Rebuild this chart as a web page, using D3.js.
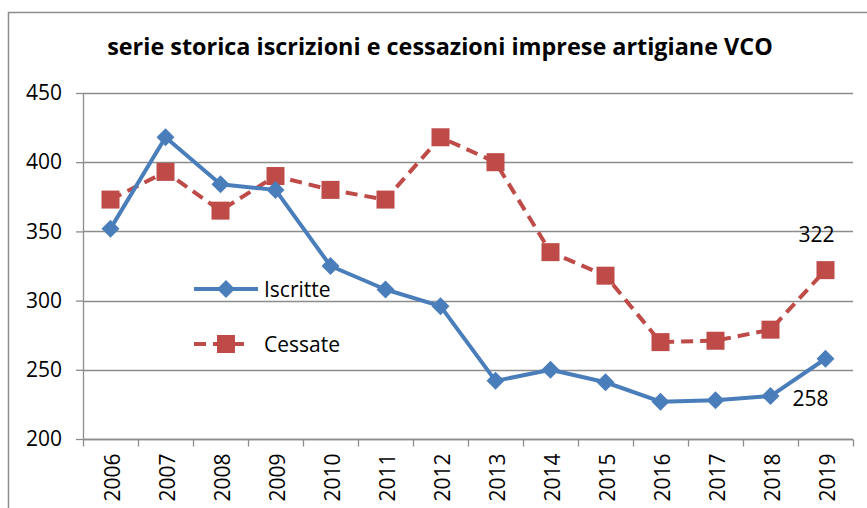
<!DOCTYPE html>
<html>
<head>
<meta charset="utf-8">
<script src="https://cdn.jsdelivr.net/npm/d3@7"></script>
<style>
  body { margin: 0; background: #fff; }
  text { font-family: "Open Sans", "Liberation Sans", sans-serif; fill: #000; }
</style>
</head>
<body>
<div id="chart"></div>
<script>
(function() {

    // data
    var years = ["2006", "2007", "2008", "2009", "2010", "2011", "2012",
                 "2013", "2014", "2015", "2016", "2017", "2018", "2019"];
    var iscritte = [352, 418, 384, 380, 325, 308, 296, 242, 250, 241, 227, 228, 231, 258];
    var cessate  = [373, 393, 365, 390, 380, 373, 418, 400, 335, 318, 270, 271, 279, 322];
    var yTicks = [200, 250, 300, 350, 400, 450];
    var title = "serie storica iscrizioni e cessazioni imprese artigiane VCO";

    var W = 867, H = 508;
    var margin = { top: 93, right: 14, bottom: 69, left: 83 },
        width = W - margin.left - margin.right,
        height = H - margin.top - margin.bottom;

    var svg = d3.select("#chart")
        .append("svg")
        .attr("width", W)
        .attr("height", H);

    // outer frame (top and left edge visible)
    svg.append("path")
        .attr("d", "M8.5," + H + "V12.5H" + W)
        .attr("fill", "none")
        .attr("stroke", "#8c8c8c")
        .attr("stroke-width", 1.5);

    // title
    var t = svg.append("text")
        .attr("x", 440)
        .attr("y", 55)
        .attr("text-anchor", "middle")
        .style("font-weight", "bold")
        .style("font-size", "20px")
        .text(title);
    var tl = t.node().getComputedTextLength();
    if (tl > 0) t.style("font-size", (20 * 666 / tl) + "px");

    var g = svg.append("g")
        .attr("transform", "translate(" + margin.left + "," + margin.top + ")");

    var x = d3.scaleBand()
        .domain(years)
        .range([0, width]);

    var y = d3.scaleLinear()
        .domain([200, 450])
        .range([height, 0]);

    // gridlines
    g.append("g")
        .selectAll("line")
        .data(yTicks)
        .enter().append("line")
        .attr("x1", 0)
        .attr("x2", width)
        .attr("y1", function(d) { return Math.round(y(d)) + 0.5; })
        .attr("y2", function(d) { return Math.round(y(d)) + 0.5; })
        .attr("stroke", "#8c8c8c")
        .attr("stroke-width", 1.3);

    // y axis
    var yAxis = g.append("g")
        .call(d3.axisLeft(y).tickValues(yTicks).tickSize(7).tickPadding(14));
    yAxis.selectAll("line, path").attr("stroke", "#8c8c8c").attr("stroke-width", 1.3);
    yAxis.select(".domain").attr("d", "M0.5," + height + "V0");
    yAxis.selectAll("text")
        .style("font-size", "21px")
        .style("font-family", "'Open Sans', sans-serif");

    // x axis: ticks on band boundaries
    var xAxis = g.append("g")
        .attr("transform", "translate(0," + (Math.round(height) + 0.5) + ")");
    xAxis.append("line")
        .attr("x1", 0).attr("x2", width)
        .attr("stroke", "#8c8c8c").attr("stroke-width", 1.3);
    var bounds = years.map(function(d) { return x(d); }).concat([width]);
    xAxis.selectAll(".tk")
        .data(bounds)
        .enter().append("line")
        .attr("class", "tk")
        .attr("x1", function(d) { return Math.round(d) + 0.5; })
        .attr("x2", function(d) { return Math.round(d) + 0.5; })
        .attr("y1", 0).attr("y2", 7)
        .attr("stroke", "#8c8c8c").attr("stroke-width", 1.3);
    xAxis.selectAll(".yl")
        .data(years)
        .enter().append("text")
        .attr("class", "yl")
        .attr("text-anchor", "end")
        .attr("dominant-baseline", "central")
        .attr("transform", function(d) {
            return "translate(" + (x(d) + x.bandwidth() / 2 + 1) + ",14) rotate(-90)";
        })
        .style("font-size", "21px")
        .text(function(d) { return d; });

    var blue = "#4a7ebb", red = "#be4b48";

    var line = d3.line()
        .x(function(d, i) { return x(years[i]) + x.bandwidth() / 2; })
        .y(function(d) { return y(d); });

    // Cessate
    g.append("path")
        .datum(cessate)
        .attr("fill", "none")
        .attr("stroke", red)
        .attr("stroke-width", 4)
        .attr("stroke-dasharray", "12,7")
        .attr("d", line);
    g.append("g")
        .selectAll("rect")
        .data(cessate)
        .enter().append("rect")
        .attr("x", function(d, i) { return x(years[i]) + x.bandwidth() / 2 - 9; })
        .attr("y", function(d) { return y(d) - 9; })
        .attr("width", 18)
        .attr("height", 18)
        .attr("fill", red);

    // Iscritte
    g.append("path")
        .datum(iscritte)
        .attr("fill", "none")
        .attr("stroke", blue)
        .attr("stroke-width", 4)
        .attr("stroke-linejoin", "round")
        .attr("d", line);
    var diamond = "M0,-9L9,0L0,9L-9,0Z";
    g.append("g")
        .selectAll("path")
        .data(iscritte)
        .enter().append("path")
        .attr("d", diamond)
        .attr("transform", function(d, i) {
            return "translate(" + (x(years[i]) + x.bandwidth() / 2) + "," + y(d) + ")";
        })
        .attr("fill", blue);

    // last value labels
    var last = years.length - 1;
    g.append("text")
        .attr("x", x(years[last]) + x.bandwidth() / 2 - 9)
        .attr("y", y(cessate[last]) - 36)
        .attr("text-anchor", "middle")
        .attr("dominant-baseline", "central")
        .style("font-size", "21px")
        .text(cessate[last]);
    g.append("text")
        .attr("x", x(years[last]) + x.bandwidth() / 2 - 15)
        .attr("y", y(iscritte[last]) + 39)
        .attr("text-anchor", "middle")
        .attr("dominant-baseline", "central")
        .style("font-size", "21px")
        .text(iscritte[last]);

    // legend
    var legend = svg.append("g");
    var items = [
        { name: "Iscritte", color: blue, dash: null, y: 289, x2: 258 },
        { name: "Cessate", color: red, dash: "12,7", y: 344, x2: 249 }
    ];
    items.forEach(function(it, i) {
        legend.append("line")
            .attr("x1", 194).attr("x2", it.x2)
            .attr("y1", it.y).attr("y2", it.y)
            .attr("stroke", it.color)
            .attr("stroke-width", 4)
            .attr("stroke-dasharray", it.dash);
        if (i === 0) {
            legend.append("path")
                .attr("d", diamond)
                .attr("transform", "translate(226," + it.y + ")")
                .attr("fill", it.color);
        } else {
            legend.append("rect")
                .attr("x", 217).attr("y", it.y - 9)
                .attr("width", 18).attr("height", 18)
                .attr("fill", it.color);
        }
        legend.append("text")
            .attr("x", 264)
            .attr("y", it.y)
            .attr("dominant-baseline", "central")
            .style("font-size", "21px")
            .text(it.name);
    });

})();
</script>
</body>
</html>
